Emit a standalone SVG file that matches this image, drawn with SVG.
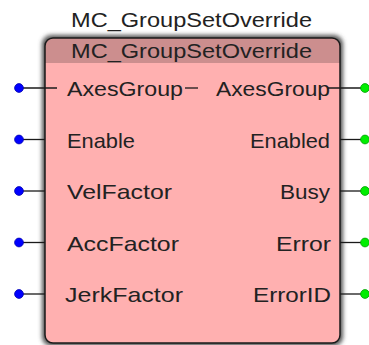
<svg xmlns="http://www.w3.org/2000/svg" width="369" height="345" viewBox="0 0 369 345">
  <style>
    text { font-family: "Liberation Sans", Arial, sans-serif; fill: #222222; font-size: 21px; }
    .lbl-r { text-anchor: end; }
    .title { text-anchor: middle; font-size: 21px; }
    .wire { stroke: #1a1a1a; stroke-width: 1.3; fill: none; }
    .in { fill: #0000ff; stroke: #0000b0; stroke-width: 0.8; }
    .out { fill: #00ee00; stroke: #00a000; stroke-width: 0.8; }
  </style>
  <defs>
    <filter id="shadow" x="-10%" y="-10%" width="120%" height="120%">
      <feGaussianBlur stdDeviation="2.2"/>
    </filter>
    <clipPath id="boxclip">
      <rect x="45" y="38" width="295" height="305" rx="8" ry="8"/>
    </clipPath>
  </defs>

  <rect width="369" height="345" fill="#ffffff"/>

  <g id="instance-name">
    <text class="title" x="191.5" y="27" textLength="241" lengthAdjust="spacingAndGlyphs">MC_GroupSetOverride</text>
  </g>

  <g id="function-block">
    <rect x="42" y="35" width="301" height="311" rx="9" ry="9" fill="#555555" filter="url(#shadow)"/>
    <rect x="45" y="38" width="295" height="305" rx="8" ry="8" fill="#ffb0b0"/>
    <rect x="45" y="38" width="295" height="25" fill="#cc8e8e" clip-path="url(#boxclip)"/>
    <rect x="45" y="38" width="295" height="305" rx="8" ry="8" fill="none" stroke="#1a1a1a" stroke-width="1.5"/>
    <text class="title" x="191.5" y="58" textLength="241" lengthAdjust="spacingAndGlyphs">MC_GroupSetOverride</text>

    <text x="67" y="96" textLength="116" lengthAdjust="spacingAndGlyphs">AxesGroup</text>
    <text x="67" y="148" textLength="68" lengthAdjust="spacingAndGlyphs">Enable</text>
    <text x="67" y="199" textLength="105" lengthAdjust="spacingAndGlyphs">VelFactor</text>
    <text x="67" y="251" textLength="112" lengthAdjust="spacingAndGlyphs">AccFactor</text>
    <text x="65" y="302" textLength="118" lengthAdjust="spacingAndGlyphs">JerkFactor</text>

    <text class="lbl-r" x="330" y="96" textLength="114" lengthAdjust="spacingAndGlyphs">AxesGroup</text>
    <text class="lbl-r" x="330" y="148" textLength="80" lengthAdjust="spacingAndGlyphs">Enabled</text>
    <text class="lbl-r" x="330" y="199" textLength="50" lengthAdjust="spacingAndGlyphs">Busy</text>
    <text class="lbl-r" x="331" y="251" textLength="55" lengthAdjust="spacingAndGlyphs">Error</text>
    <text class="lbl-r" x="331" y="302" textLength="78" lengthAdjust="spacingAndGlyphs">ErrorID</text>
  </g>

  <g id="connectors">
    <line class="wire" x1="19" y1="88" x2="57" y2="88"/>
    <line class="wire" x1="185" y1="88" x2="198" y2="88"/>
    <line class="wire" x1="19" y1="139.5" x2="45" y2="139.5"/>
    <line class="wire" x1="19" y1="191" x2="45" y2="191"/>
    <line class="wire" x1="19" y1="242.5" x2="45" y2="242.5"/>
    <line class="wire" x1="19" y1="294" x2="45" y2="294"/>

    <line class="wire" x1="328" y1="88" x2="366" y2="88"/>
    <line class="wire" x1="340" y1="139.5" x2="366" y2="139.5"/>
    <line class="wire" x1="340" y1="191" x2="366" y2="191"/>
    <line class="wire" x1="340" y1="242.5" x2="366" y2="242.5"/>
    <line class="wire" x1="340" y1="294" x2="366" y2="294"/>
  </g>

  <g id="input-pins">
    <circle class="in" cx="19" cy="88" r="4.4"/>
    <circle class="in" cx="19" cy="139.5" r="4.4"/>
    <circle class="in" cx="19" cy="191" r="4.4"/>
    <circle class="in" cx="19" cy="242.5" r="4.4"/>
    <circle class="in" cx="19" cy="294" r="4.4"/>
  </g>
  <g id="output-pins">
    <circle class="out" cx="365" cy="88" r="4.4"/>
    <circle class="out" cx="365" cy="139.5" r="4.4"/>
    <circle class="out" cx="365" cy="191" r="4.4"/>
    <circle class="out" cx="365" cy="242.5" r="4.4"/>
    <circle class="out" cx="365" cy="294" r="4.4"/>
  </g>
</svg>
